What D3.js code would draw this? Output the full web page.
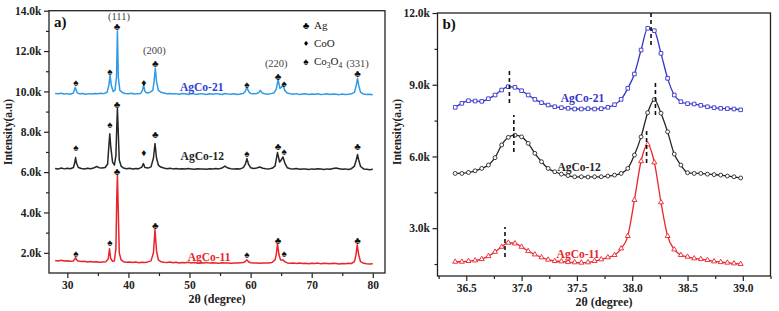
<!DOCTYPE html>
<html>
<head>
<meta charset="utf-8">
<script src="https://cdn.jsdelivr.net/npm/d3@7"></script>
<style>
  body { margin: 0; background: #fff; }
  text { font-family: "Liberation Serif", "Times New Roman", serif; }
</style>
</head>
<body>
<div class="canvas"></div>
<script>
// ---------- panel a) : full XRD patterns, [2theta, intensity] ----------
const agco21A = [
  [28.0,9900],[28.5,9880],[29.0,9910],[29.5,9870],[30.0,9890],[30.5,9860],[31.0,9920],[31.3,10200],[31.6,9930],
  [32.0,9880],[32.5,9900],[33.0,9860],[33.5,9890],[34.0,9870],[34.5,9900],[35.0,9880],[35.5,9910],[36.0,9890],
  [36.5,9960],[36.8,10300],[37.0,10800],[37.2,10300],[37.5,10000],[37.8,10050],[38.05,10700],[38.2,13000],
  [38.35,10700],[38.6,10050],[39.0,9950],[39.5,9900],[40.0,9880],[40.5,9910],[41.0,9870],[41.5,9890],[42.0,9900],
  [42.3,10050],[42.5,10300],[42.7,10000],[43.0,9920],[43.5,9950],[44.0,10050],[44.2,10500],[44.4,11150],
  [44.6,10500],[44.9,10050],[45.3,9960],[45.8,9920],[46.3,9880],[46.8,9900],[47.3,9870],[47.8,9890],[48.3,9860],
  [48.8,9900],[49.3,9880],[49.8,9850],[50.3,9890],[50.8,9870],[51.3,9860],[51.8,9890],[52.3,9870],[52.8,9850],
  [53.3,9880],[53.8,9860],[54.3,9890],[54.8,9870],[55.3,9850],[55.8,9900],[56.3,9870],[56.8,9860],[57.3,9880],
  [57.8,9850],[58.3,9870],[58.8,9900],[59.1,9980],[59.4,10200],[59.7,9980],[60.0,9900],[60.5,9880],[61.0,9900],
  [61.3,9930],[61.6,10050],[61.9,9920],[62.3,9880],[62.8,9860],[63.3,9890],[63.8,9920],[64.2,10100],[64.5,10600],
  [64.8,10150],[65.0,10200],[65.3,10300],[65.6,10050],[66.0,9920],[66.5,9880],[67.0,9860],[67.5,9890],[68.0,9850],
  [68.5,9870],[69.0,9880],[69.5,9850],[70.0,9870],[70.5,9860],[71.0,9880],[71.5,9850],[72.0,9860],[72.5,9880],
  [73.0,9850],[73.5,9870],[74.0,9860],[74.5,9840],[75.0,9870],[75.5,9850],[76.0,9860],[76.5,9880],[77.0,9950],
  [77.3,10300],[77.5,10650],[77.7,10300],[78.0,9950],[78.5,9870],[79.0,9850],[79.5,9860],[80.0,9840]
];

const agco12A = [
  [28.0,6180],[28.5,6150],[29.0,6200],[29.5,6160],[30.0,6190],[30.5,6170],[31.0,6230],[31.2,6450],[31.35,6720],
  [31.5,6450],[31.8,6230],[32.3,6180],[32.8,6150],[33.3,6190],[33.8,6170],[34.3,6200],[34.8,6280],[35.2,6220],
  [35.7,6200],[36.2,6230],[36.6,6400],[36.8,7300],[36.95,7900],[37.1,7300],[37.4,6500],[37.7,6350],[37.95,6800],
  [38.1,8300],[38.2,9150],[38.3,8300],[38.5,6600],[38.8,6300],[39.2,6200],[39.7,6170],[40.2,6190],[40.7,6150],
  [41.2,6180],[41.7,6170],[42.2,6250],[42.45,6420],[42.7,6230],[43.2,6200],[43.7,6260],[44.1,6700],[44.35,7420],
  [44.6,6700],[44.9,6350],[45.3,6250],[45.8,6200],[46.3,6170],[46.8,6190],[47.3,6160],[47.8,6180],[48.3,6150],
  [48.8,6170],[49.3,6150],[49.8,6180],[50.3,6160],[50.8,6140],[51.3,6170],[51.8,6150],[52.3,6160],[52.8,6140],
  [53.3,6170],[53.8,6150],[54.3,6180],[54.8,6160],[55.3,6200],[55.8,6300],[56.3,6200],[56.8,6170],[57.3,6150],
  [57.8,6170],[58.3,6160],[58.8,6220],[59.15,6400],[59.4,6670],[59.65,6400],[60.0,6220],[60.5,6180],[61.0,6200],
  [61.5,6250],[62.0,6190],[62.5,6170],[63.0,6160],[63.5,6190],[64.0,6300],[64.4,6970],[64.75,6500],[65.0,6600],
  [65.3,6750],[65.6,6450],[66.0,6220],[66.5,6170],[67.0,6150],[67.5,6180],[68.0,6140],[68.5,6160],[69.0,6150],
  [69.5,6130],[70.0,6160],[70.5,6140],[71.0,6170],[71.5,6150],[72.0,6130],[72.5,6160],[73.0,6140],[73.5,6180],
  [74.0,6200],[74.5,6170],[75.0,6140],[75.5,6160],[76.0,6130],[76.5,6170],[77.0,6300],[77.3,6600],[77.5,6870],
  [77.7,6600],[78.0,6280],[78.5,6160],[79.0,6140],[79.5,6120],[80.0,6140]
];

const agco11A = [
  [28.0,1620],[28.5,1600],[29.0,1630],[29.5,1590],[30.0,1610],[30.5,1580],[31.0,1600],[31.2,1680],[31.35,1760],
  [31.5,1660],[31.8,1590],[32.3,1570],[32.8,1580],[33.3,1550],[33.8,1570],[34.3,1540],[34.8,1560],[35.3,1530],
  [35.8,1550],[36.3,1560],[36.7,1700],[36.9,2200],[37.1,1720],[37.4,1580],[37.7,1600],[37.95,2200],[38.1,4800],
  [38.2,5850],[38.3,4600],[38.5,2000],[38.8,1650],[39.2,1560],[39.7,1530],[40.2,1550],[40.7,1520],[41.2,1540],
  [41.7,1510],[42.2,1530],[42.7,1520],[43.2,1550],[43.7,1600],[44.1,2000],[44.35,3150],[44.6,2100],[44.9,1650],
  [45.3,1560],[45.8,1530],[46.3,1520],[46.8,1540],[47.3,1510],[47.8,1530],[48.3,1500],[48.8,1520],[49.3,1510],
  [49.8,1530],[50.3,1500],[50.8,1520],[51.3,1490],[51.8,1510],[52.3,1500],[52.8,1520],[53.3,1490],[53.8,1510],
  [54.3,1500],[54.8,1480],[55.3,1510],[55.8,1490],[56.3,1500],[56.8,1480],[57.3,1500],[57.8,1490],[58.3,1510],
  [58.8,1520],[59.15,1580],[59.4,1650],[59.65,1560],[60.0,1510],[60.5,1490],[61.0,1500],[61.5,1480],[62.0,1500],
  [62.5,1490],[63.0,1500],[63.5,1520],[64.0,1650],[64.2,1900],[64.4,2450],[64.65,1900],[64.9,1650],[65.3,1650],
  [65.6,1560],[66.0,1500],[66.5,1480],[67.0,1490],[67.5,1470],[68.0,1490],[68.5,1470],[69.0,1480],[69.5,1460],
  [70.0,1480],[70.5,1470],[71.0,1490],[71.5,1460],[72.0,1480],[72.5,1470],[73.0,1460],[73.5,1480],[74.0,1470],
  [74.5,1450],[75.0,1470],[75.5,1460],[76.0,1480],[76.5,1470],[77.0,1560],[77.25,1900],[77.45,2400],[77.7,1900],
  [78.0,1560],[78.5,1480],[79.0,1460],[79.5,1450],[80.0,1460]
];

// phase markers above the peaks: [2theta, intensity, phase]
const marks21 = [[31.4,10450,'Co3O4'],[36.95,11000,'Co3O4'],[38.15,13220,'Ag'],[42.5,10450,'CoO'],[44.4,11400,'Ag'],
  [59.4,10350,'Co3O4'],[64.5,10750,'Ag'],[65.5,10400,'Co3O4'],[77.5,10900,'Ag']];
const marks12 = [[31.4,7220,'Co3O4'],[36.95,8360,'Co3O4'],[38.15,9360,'Ag'],[42.5,6970,'CoO'],[44.4,7870,'Ag'],
  [59.4,6920,'Co3O4'],[64.5,7270,'Ag'],[65.5,7020,'Co3O4'],[77.5,7270,'Ag']];
const marks11 = [[31.4,1950,'Co3O4'],[36.95,2540,'Co3O4'],[38.15,6050,'Ag'],[44.4,3340,'Ag'],
  [59.4,1900,'Co3O4'],[64.5,2640,'Ag'],[65.5,1950,'Co3O4'],[77.5,2640,'Ag']];
const hklLabels = [['(111)',38.45,13560],['(200)',44.25,11850],['(220)',64.2,11200],['(331)',77.5,11200]];
const phaseSymbols = { Ag: '\u2663', CoO: '\u2666', Co3O4: '\u2660' };

// ---------- panel b) : zoom on 36.4-39.0 ----------
const thetaB = [36.40,36.46,36.52,36.58,36.64,36.70,36.76,36.82,36.88,36.94,37.00,37.06,37.12,37.18,37.24,
  37.30,37.36,37.42,37.48,37.54,37.60,37.66,37.72,37.78,37.84,37.90,37.96,38.02,38.08,38.14,38.20,38.26,
  38.32,38.38,38.44,38.50,38.56,38.62,38.68,38.74,38.80,38.86,38.92,38.98];
const agco21B = [8054,8221,8332,8318,8304,8415,8569,8778,8917,8890,8750,8569,8388,8249,8151,8080,8040,8012,
  7985,7985,7998,7985,7998,8054,8165,8388,8848,9448,10452,11360,11260,10313,9267,8569,8290,8207,8193,8137,
  8080,8040,8012,7998,7985,7950];
const agco12B = [5290,5290,5330,5400,5500,5640,5950,6480,6800,6890,6820,6550,6130,5780,5500,5360,5260,5200,
  5150,5150,5140,5150,5150,5180,5220,5290,5500,6060,6820,7830,8380,7810,7030,6100,5640,5320,5290,5290,
  5260,5240,5220,5180,5150,5100];
const agco11B = [1595,1595,1625,1650,1705,1830,2010,2220,2390,2360,2220,2040,1900,1780,1680,1625,1610,1580,
  1570,1555,1570,1625,1695,1780,1875,2150,2670,4180,5800,6500,5750,4080,2670,2110,1875,1805,1735,1705,
  1665,1610,1580,1555,1525,1500];
// dashed peak guides: [2theta, from, to]
const peakGuides = [[36.89,8234,9615],[38.17,10660,12050],[36.93,6184,7732],[38.21,7732,9071],
  [38.13,5724,7188],[36.85,1791,3046]];

const colors = { blueA: '#2f9be6', blueB: '#3535c8', blueText: '#3040d8', black: '#262626', red: '#e8252b' };

const svg = d3.select('.canvas').append('svg')
  .attr('width', 779).attr('height', 311);

const kFormat = d => (d / 1000).toFixed(1) + 'k';

// draws frame, ticks and titles for one panel, returns the scales
const drawFrame = (box, xDomain, yDomain, xMajor, xMinor, yMajor, yMinor, xFmt) => {
  const x = d3.scaleLinear().domain(xDomain).range([box.x0, box.x1]);
  const y = d3.scaleLinear().domain(yDomain).range([box.y1, box.y0]);

  const g = svg.append('g');
  // minor ticks
  g.append('g').attr('transform', `translate(0,${box.y1})`)
    .call(d3.axisBottom(x).tickValues(xMinor).tickSize(3).tickFormat(''))
    .call(a => a.select('.domain').remove());
  g.append('g').attr('transform', `translate(${box.x0},0)`)
    .call(d3.axisLeft(y).tickValues(yMinor).tickSize(3).tickFormat(''))
    .call(a => a.select('.domain').remove());
  // major ticks
  g.append('g').attr('transform', `translate(0,${box.y1})`)
    .call(d3.axisBottom(x).tickValues(xMajor).tickSize(5).tickPadding(3).tickFormat(xFmt))
    .call(a => a.select('.domain').remove());
  g.append('g').attr('transform', `translate(${box.x0},0)`)
    .call(d3.axisLeft(y).tickValues(yMajor).tickSize(5).tickPadding(2.5).tickFormat(kFormat))
    .call(a => a.select('.domain').remove());

  g.selectAll('.tick line').attr('stroke', '#222').attr('stroke-width', 1.2);
  g.selectAll('.tick text')
    .attr('font-family', '"Liberation Serif", serif')
    .attr('font-weight', 'bold').attr('font-size', 11.5).attr('fill', '#222');

  g.append('rect')
    .attr('x', box.x0).attr('y', box.y0)
    .attr('width', box.x1 - box.x0).attr('height', box.y1 - box.y0)
    .attr('fill', 'none').attr('stroke', '#222').attr('stroke-width', 1.3);

  // axis titles
  svg.append('text')
    .attr('x', (box.x0 + box.x1) / 2).attr('y', box.y1 + 30)
    .attr('text-anchor', 'middle').attr('font-weight', 'bold').attr('font-size', 12).attr('fill', '#222')
    .text('2\u03b8 (degree)');
  svg.append('text')
    .attr('transform', `translate(${box.x0 - 37},${132}) rotate(-90)`)
    .attr('text-anchor', 'middle').attr('font-weight', 'bold').attr('font-size', 11.5).attr('fill', '#222')
    .text('Intensity(a.u)');

  return { x, y, g };
};

// ================= panel a =================
const boxA = { x0: 49, x1: 385, y0: 10.7, y1: 273 };
const a = drawFrame(boxA, [27, 82], [1000, 14000],
  [30, 40, 50, 60, 70, 80], [35, 45, 55, 65, 75],
  d3.range(2000, 14001, 2000), d3.range(3000, 14000, 2000), d3.format('d'));

const lineA = d3.line().x(d => a.x(d[0])).y(d => a.y(d[1]));

[[agco21A, colors.blueA], [agco12A, colors.black], [agco11A, colors.red]].forEach(([data, c]) => {
  svg.append('path')
    .datum(data)
    .attr('d', lineA)
    .attr('fill', 'none')
    .attr('stroke', c)
    .attr('stroke-width', 1.5)
    .attr('stroke-linejoin', 'round');
});

svg.append('g').selectAll('text')
  .data([...marks21, ...marks12, ...marks11])
  .join('text')
  .attr('x', d => a.x(d[0]))
  .attr('y', d => a.y(d[1]))
  .attr('dy', '0.36em')
  .attr('text-anchor', 'middle')
  .attr('font-family', '"DejaVu Sans", sans-serif')
  .attr('font-size', 10)
  .attr('fill', '#111')
  .text(d => phaseSymbols[d[2]]);

svg.append('g').selectAll('text')
  .data(hklLabels)
  .join('text')
  .attr('x', d => a.x(d[1]))
  .attr('y', d => a.y(d[2]))
  .attr('text-anchor', 'middle')
  .attr('font-size', 10.5)
  .attr('fill', '#444')
  .text(d => d[0]);

// series names
const namesA = [['AgCo-21', 52.0, 10000, colors.blueText], ['AgCo-12', 52.1, 6620, colors.black], ['AgCo-11', 53.2, 1600, colors.red]];
svg.append('g').selectAll('text')
  .data(namesA)
  .join('text')
  .attr('x', d => a.x(d[1]))
  .attr('y', d => a.y(d[2]))
  .attr('text-anchor', 'middle')
  .attr('font-weight', 'bold')
  .attr('font-size', 11.5)
  .attr('fill', d => d[3])
  .text(d => d[0]);

// legend
const legend = svg.append('g').attr('transform', `translate(${boxA.x0 + 257},0)`);
const legendItems = ['Ag', 'CoO', 'Co3O4'];
legendItems.forEach((k, i) => {
  legend.append('text')
    .attr('x', 0).attr('y', 25 + i * 18).attr('dy', '0.36em')
    .attr('text-anchor', 'middle')
    .attr('font-family', '"DejaVu Sans", sans-serif')
    .attr('font-size', k === 'CoO' ? 9 : 10)
    .text(phaseSymbols[k]);
  const t = legend.append('text')
    .attr('x', 8).attr('y', 29 + i * 18)
    .attr('font-size', 11).attr('fill', '#222');
  if (k === 'Co3O4') {
    t.append('tspan').text('Co');
    t.append('tspan').attr('font-size', 7.5).attr('dy', 3).text('3');
    t.append('tspan').attr('dy', -3).text('O');
    t.append('tspan').attr('font-size', 7.5).attr('dy', 3).text('4');
  } else {
    t.text(k);
  }
});

svg.append('text')
  .attr('x', boxA.x0 + 5).attr('y', 27)
  .attr('font-weight', 'bold').attr('font-size', 15).attr('fill', '#111')
  .text('a)');

// ================= panel b =================
const boxB = { x0: 437.5, x1: 770.5, y0: 13, y1: 276 };
const b = drawFrame(boxB, [36.24, 39.25], [1000, 12000],
  [36.5, 37, 37.5, 38, 38.5, 39], [36.25, 36.75, 37.25, 37.75, 38.25, 38.75, 39.25],
  [3000, 6000, 9000, 12000], [1500, 4500, 7500, 10500], d3.format('.1f'));

const lineB = d3.line()
  .x((d, i) => b.x(thetaB[i]))
  .y(d => b.y(d))
  .curve(d3.curveMonotoneX);

const seriesB = [
  { data: agco21B, color: colors.blueB, shape: d3.symbolSquare, size: 13 },
  { data: agco12B, color: colors.black, shape: d3.symbolCircle, size: 12 },
  { data: agco11B, color: colors.red, shape: d3.symbolTriangle, size: 11 }
];

seriesB.forEach(s => {
  svg.append('path')
    .datum(s.data)
    .attr('d', lineB)
    .attr('fill', 'none')
    .attr('stroke', s.color)
    .attr('stroke-width', 1.3);

  svg.append('g').selectAll('path')
    .data(s.data)
    .join('path')
    .attr('transform', (d, i) => `translate(${b.x(thetaB[i])},${b.y(d)})`)
    .attr('d', d3.symbol().type(s.shape).size(s.size))
    .attr('fill', '#fff')
    .attr('stroke', s.color)
    .attr('stroke-width', 0.9);
});

svg.append('g').selectAll('line')
  .data(peakGuides)
  .join('line')
  .attr('x1', d => b.x(d[0])).attr('x2', d => b.x(d[0]))
  .attr('y1', d => b.y(d[1])).attr('y2', d => b.y(d[2]))
  .attr('stroke', '#111')
  .attr('stroke-width', 1.6)
  .attr('stroke-dasharray', '4,3');

const namesB = [['AgCo-21', 37.55, 8276, colors.blueB], ['AgCo-12', 37.52, 5390, colors.black], ['AgCo-11', 37.51, 1750, colors.red]];
svg.append('g').selectAll('text')
  .data(namesB)
  .join('text')
  .attr('x', d => b.x(d[1]))
  .attr('y', d => b.y(d[2]))
  .attr('text-anchor', 'middle')
  .attr('font-weight', 'bold')
  .attr('font-size', 11.5)
  .attr('fill', d => d[3])
  .text(d => d[0]);

svg.append('text')
  .attr('x', boxB.x0 + 5).attr('y', 29)
  .attr('font-weight', 'bold').attr('font-size', 15).attr('fill', '#111')
  .text('b)');
</script>
</body>
</html>
